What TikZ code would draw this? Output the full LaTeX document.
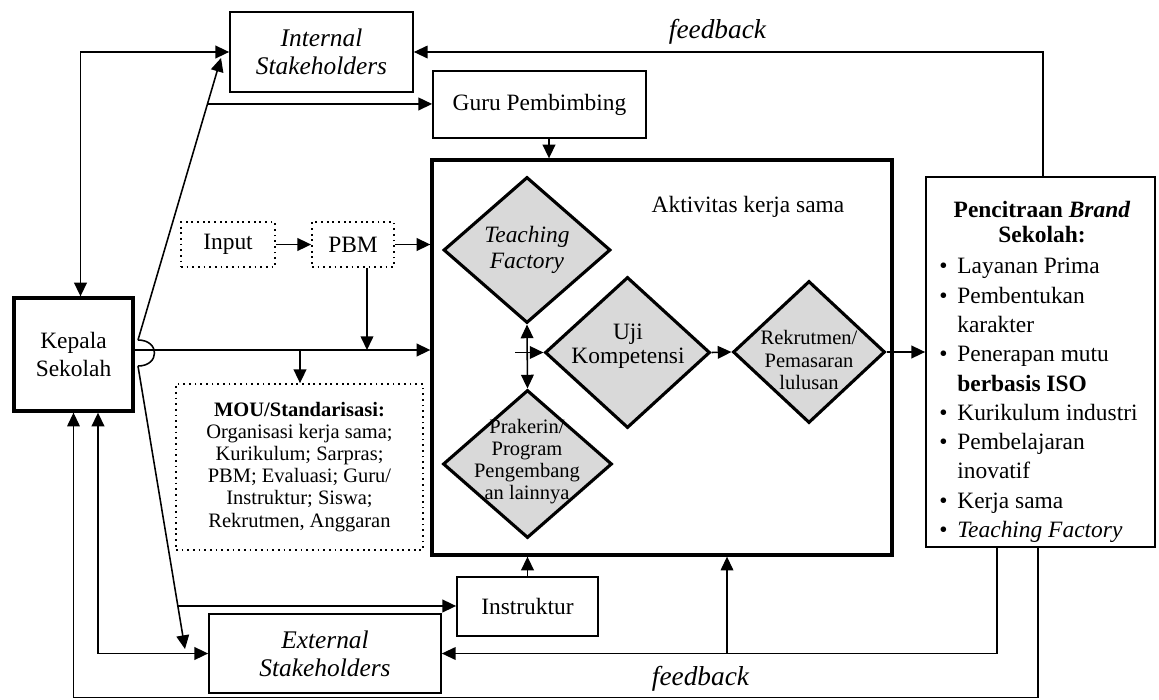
\documentclass[tikz,border=0pt]{standalone}
\usepackage{fontspec}
\setmainfont{Liberation Serif}
\usetikzlibrary{arrows.meta,shapes.geometric}
\newcommand\pu{0.018cm}
\newcommand\stakefont{\fontsize{13}{14.5}\selectfont\itshape}
\newcommand\smallfont{\fontsize{10.5}{11.3}\selectfont}
\newcommand\fbfont{\fontsize{14}{16}\selectfont\itshape}
\tikzset{
  boxsize/.style 2 args={minimum width=#1*\pu, minimum height=#2*\pu},
  box/.style={draw, line width=0.9pt, inner sep=0pt, align=center},
  thickbox/.style={draw, line width=1.7pt, inner sep=0pt, align=center},
  dotbox/.style={draw, dotted, line width=0.9pt, inner sep=0pt, align=center},
  dmd/.style={diamond, draw, line width=1.6pt, fill=gray!30, inner sep=0pt},
  conn/.style={->, line width=0.8pt},
  fb/.style={->, line width=0.6pt}
}
\begin{document}
\begin{tikzpicture}[x=\pu, y=-\pu, >={Triangle[length=7pt,width=6.5pt]},
    font=\fontsize{12}{14}\selectfont]
    \useasboundingbox (0,0) rectangle (1159,700);

    % boxes
    \node[box, boxsize={183}{80}, font=\stakefont] (inter) at (321.5,52) {Internal\\Stakeholders};
    \node[box, boxsize={213}{67}] (guru) at (539.5,104.5) {Guru Pembimbing};
    \node[dotbox, boxsize={94}{45}] (input) at (228,244.5) {Input};
    \node[dotbox, boxsize={82}{45}] (pbm) at (353,244.5) {PBM};
    \node[thickbox, boxsize={119}{113}] (kepala) at (73.5,354.5) {Kepala\\Sekolah};
    \node[dotbox, boxsize={247}{166}, font=\smallfont] (mou) at (299.5,467)
        {\textbf{MOU/Standarisasi:}\\Organisasi kerja sama;\\Kurikulum; Sarpras;\\PBM; Evaluasi; Guru/\\Instruktur; Siswa;\\Rekrutmen, Anggaran};
    \node[box, boxsize={141}{59}] (instr) at (527.5,606.5) {Instruktur};
    \node[box, boxsize={232}{79}, font=\stakefont] (exter) at (325,653.5) {External\\Stakeholders};

    % aktivitas kerja sama
    \node[thickbox, boxsize={460}{395}] (main) at (662,357.5) {};
    \node (akt) at (748,207) {Aktivitas kerja sama};
    \node[dmd, boxsize={167}{146}] (tf) at (527,250) {};
    \node[dmd, boxsize={165}{151}] (uji) at (627.5,352.5) {};
    \node[dmd, boxsize={152}{142}] (rek) at (809,352) {};
    \node[dmd, boxsize={169}{148}] (pk) at (527.5,464) {};
    \node[font=\fontsize{12}{13}\selectfont\itshape, align=center] (tftext) at (527,250) {Teaching\\Factory};
    \node[font=\fontsize{12}{12.5}\selectfont, align=center] (ujitext) at (628,346) {Uji\\Kompetensi};
    \node[font=\smallfont, align=center] (rektext) at (809,360) {Rekrutmen/\\Pemasaran\\lulusan};
    \node[font=\smallfont, align=center] (pktext) at (527,462) {Prakerin/\\Program\\Pengembang\\an lainnya};

    % pencitraan brand
    \node[box, boxsize={229}{370}] (brand) at (1040.5,362) {};
    \node[font=\fontsize{12}{13}\selectfont\bfseries, align=center] (brandtitle) at (1042,222)
        {Pencitraan \textit{Brand}\\Sekolah:};
    \node[anchor=north west, inner sep=0pt, font=\fontsize{12}{15}\selectfont] (brandlist) at (939,253)
        {\begin{tabular}{@{}c@{\hspace{5pt}}l@{}}
         \textbullet & Layanan Prima\\
         \textbullet & Pembentukan\\
                     & karakter\\
         \textbullet & Penerapan mutu\\
                     & \textbf{berbasis ISO}\\
         \textbullet & Kurikulum industri\\
         \textbullet & Pembelajaran\\
                     & inovatif\\
         \textbullet & Kerja sama\\
         \textbullet & \textit{Teaching Factory}
         \end{tabular}};

    \node[font=\fbfont] (fbtop) at (717.5,32) {feedback};
    \node[font=\fbfont] (fbbot) at (700.5,679) {feedback};

    % kepala sekolah lines
    \coordinate (hopup) at (138,340);
    \coordinate (hopdn) at (138,366);
    \coordinate (intin) at (221,58);
    \coordinate (extin) at (185,649);
    \coordinate (pbmjn) at (367,350);
    \coordinate (moujn) at (300,350);
    \draw[conn, <->] ([xshift=7*\pu]kepala.north) |- (inter.west);
    \draw[line width=0.8pt] (hopup) .. controls (160,340) and (160,366) .. (hopdn);
    \draw[conn] (hopup) -- (intin) coordinate[pos=0.837] (gurujn);
    \draw[conn] (hopdn) -- (extin) coordinate[pos=0.848] (instrjn);
    \draw[conn] (gurujn) -- (gurujn -| guru.west);
    \draw[conn] (instrjn) -- (instrjn -| instr.west);
    \draw[conn] (kepala.east |- pbmjn) -- (main.west |- pbmjn);
    \draw[conn] (pbm.south -| pbmjn) -- (pbmjn);
    \draw[conn] (moujn) -- (moujn |- mou.north);
    \draw[conn] (input) -- (pbm);
    \draw[conn] (pbm) -- (pbm -| main.west);
    \draw[conn] ([xshift=9.5*\pu]guru.south) coordinate (gurudn) -- (gurudn |- main.north);
    \draw[conn] (instr.north) -- (instr.north |- main.south);
    \draw[conn, <->] ([xshift=24.5*\pu]kepala.south) |- (exter.west);

    % inside the activity box
    \draw[conn, <->] (tf.south) -- (pk.north);
    \draw[conn] ([xshift=-28*\pu]uji.west) -- (uji.west);
    \draw[conn] (uji.east) -- (rek.west);
    \draw[conn] (rek.east) -- (rek.east -| brand.west);

    % feedback
    \coordinate (fbjn) at (727,653);
    \draw[fb] ([xshift=2.5*\pu]brand.north) |- (inter.east);
    \draw[fb] ([xshift=-43.5*\pu]brand.south) |- (exter.east);
    \draw[fb] (fbjn) -- (fbjn |- main.south);
    \draw[fb] ([xshift=-2.5*\pu]brand.south) -- ++(0,150) -| (kepala.south);
\end{tikzpicture}
\end{document}
